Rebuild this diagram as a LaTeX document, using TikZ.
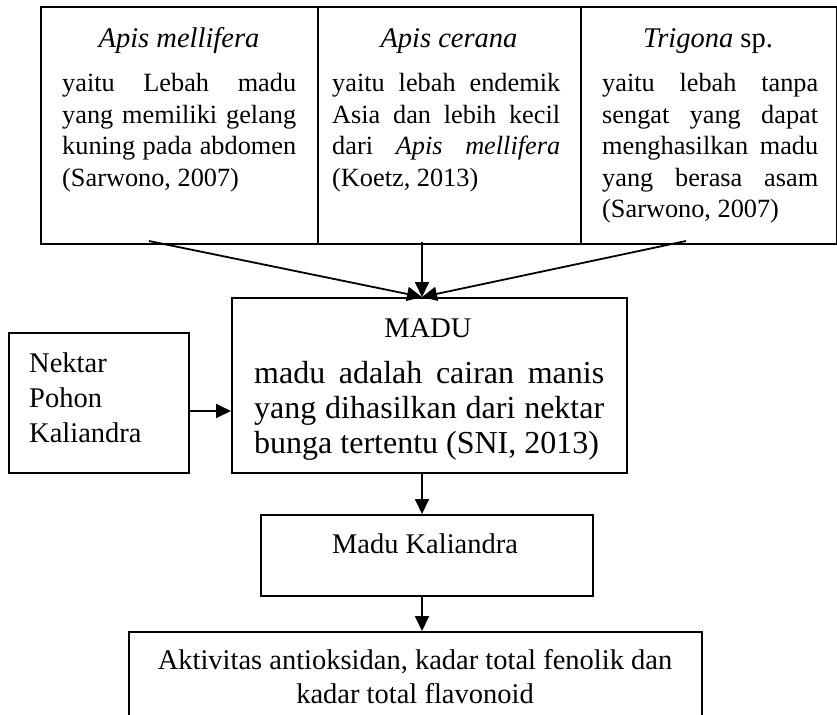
\documentclass[tikz,border=0pt]{standalone}
\usepackage{fontspec}
\setmainfont{Liberation Serif}
\usetikzlibrary{arrows.meta}
\newcommand{\fbig}{\fontsize{28.5}{35}\selectfont}
\newcommand{\fbody}{\fontsize{26.3}{31.5}\selectfont}
\newcommand{\fmadu}{\fontsize{32}{35}\selectfont}
\begin{document}
\begin{tikzpicture}[x=1pt,y=-1pt,
  box/.style={draw, line width=2pt, inner sep=0pt, anchor=north west},
  txt/.style={inner sep=0pt, anchor=base west},
  ttl/.style={inner sep=0pt, anchor=base},
  arr/.style={line width=1.8pt, -{Triangle[length=15pt,width=14pt]}},
  ]
\clip (0,0) rectangle (837,714);
% boxes
\node[box, minimum width=277pt, minimum height=237pt] (c1) at (40,6) {};
\node[box, minimum width=263pt, minimum height=237pt] (c2) at (317,6) {};
\node[box, minimum width=256pt, minimum height=237pt] (c3) at (580,6) {};
\node[box, minimum width=395pt, minimum height=175pt] (madu) at (231,297) {};
\node[box, minimum width=180pt, minimum height=140pt] (nk) at (8,332) {};
\node[box, minimum width=332pt, minimum height=81pt] (mk) at (260,514) {};
\node[box, minimum width=573pt, minimum height=100pt] (akt) at (128,631) {};
% titles
\node[ttl] (t1) at (179,48) {\fbig\itshape Apis mellifera};
\node[ttl] (t2) at (449,48) {\fbig\itshape Apis cerana};
\node[ttl] (t3) at (708,48) {\fbig\textit{Trigona} sp.};
% column texts
\node[txt] (b1) at (62,92) {\parbox[t]{234pt}{\fbody
yaitu Lebah madu\linebreak yang memiliki gelang\linebreak kuning pada abdomen\linebreak (Sarwono, 2007)}};
\node[txt] (b2) at (332,92) {\parbox[t]{228pt}{\fbody
yaitu lebah endemik\linebreak Asia dan lebih kecil\linebreak dari \textit{Apis mellifera}\linebreak (Koetz, 2013)}};
\node[txt] (b3) at (602,92) {\parbox[t]{216pt}{\fbody
yaitu lebah tanpa\linebreak sengat yang dapat\linebreak menghasilkan madu\linebreak yang berasa asam\linebreak (Sarwono, 2007)}};
% MADU
\node[ttl] (mt) at (428,337) {\fbig MADU};
\node[txt] (mb) at (254,383) {\parbox[t]{350pt}{\fmadu
madu adalah cairan manis\linebreak yang dihasilkan dari nektar\linebreak bunga tertentu (SNI, 2013)}};
% Nektar
\node[txt] (nt) at (29,372) {\parbox[t]{150pt}{\raggedright\fbig Nektar\\Pohon\\Kaliandra}};
% Madu Kaliandra
\node[ttl] (mkt) at (425,553) {\fbig Madu Kaliandra};
% bottom
\node[ttl] (at1) at (415,669) {\fbig Aktivitas antioksidan, kadar total fenolik dan};
\node[ttl] (at2) at (415,703) {\fbig kadar total flavonoid};
% arrows
\coordinate (axis) at (422,0);
\draw[arr] ([xshift=-30.5pt,yshift=4pt]c1.south) -- (madu.north -| axis);
\draw[arr] ([yshift=3pt]c2.south -| axis) -- (madu.north -| axis);
\draw[arr] ([xshift=-23pt,yshift=4pt]c3.south) -- (madu.north -| axis);
\draw[arr] ([yshift=-8pt]nk.east) -- ([yshift=-8pt]nk.east -| madu.west);
\draw[arr] (madu.south -| axis) -- (mk.north -| axis);
\draw[arr] (mk.south -| axis) -- (akt.north -| axis);
\end{tikzpicture}
\end{document}
